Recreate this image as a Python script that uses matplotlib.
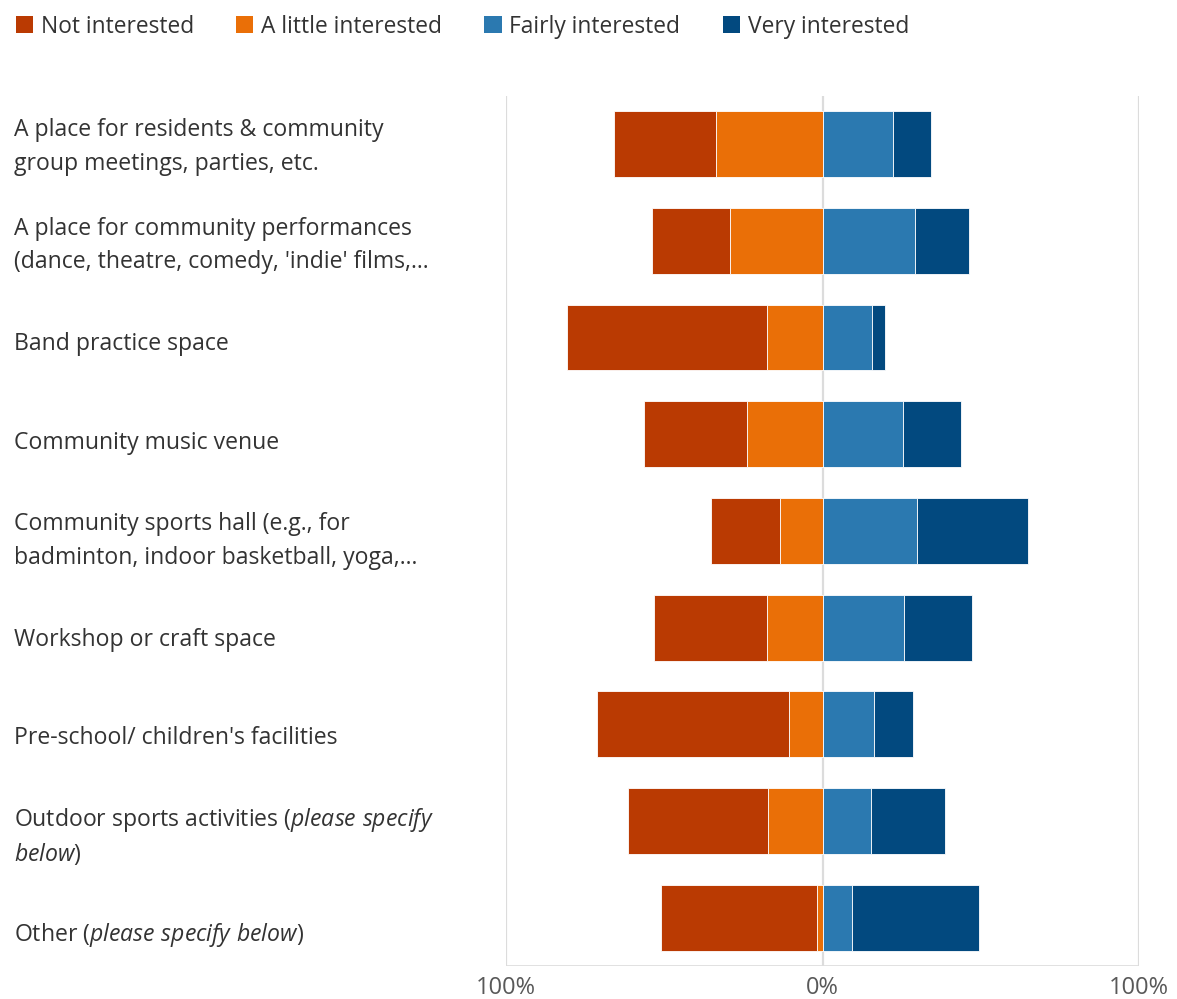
import numpy as np
import matplotlib.pyplot as plt
from matplotlib.patches import Patch

plt.rcParams['font.family'] = ['Open Sans', 'DejaVu Sans']
plt.rcParams['mathtext.fontset'] = 'custom'
plt.rcParams['mathtext.rm'] = 'Open Sans'
plt.rcParams['mathtext.it'] = 'Open Sans:italic'

# libelles des lignes (de haut en bas)
labels = [
    "A place for residents & community\ngroup meetings, parties, etc.",
    "A place for community performances\n(dance, theatre, comedy, 'indie' films,...",
    "Band practice space",
    "Community music venue",
    "Community sports hall (e.g., for\nbadminton, indoor basketball, yoga,...",
    "Workshop or craft space",
    "Pre-school/ children's facilities",
    "Outdoor sports activities ($\\mathit{please\\ specify}$\n$\\mathit{below}$)",
    "Other ($\\mathit{please\\ specify\\ below}$)",
]

series = ["Not interested", "A little interested", "Fairly interested", "Very interested"]
not_int = [32.2, 24.6, 63.2, 32.5, 21.8, 35.7, 60.7, 44.5, 49.0]
little = [33.8, 29.4, 17.7, 24.0, 13.6, 17.7, 10.7, 17.1, 1.9]
fairly = [22.4, 29.1, 15.5, 25.3, 30.0, 25.6, 16.4, 15.2, 9.2]
very = [12.0, 17.1, 4.1, 18.6, 34.8, 21.5, 12.3, 23.4, 40.4]

colors = ["#BA3A02", "#EA6F07", "#2B79B0", "#02497F"]

W, H = 1177, 999
fig = plt.figure(figsize=(W / 100, H / 100), dpi=100)
ax = fig.add_axes([0.430, 0.033, 0.5377, 0.871])

y = np.arange(len(labels))
little_a = np.array(little)
not_a = np.array(not_int)
fairly_a = np.array(fairly)
very_a = np.array(very)
h = 0.68
kw = dict(height=h, edgecolor="white", linewidth=0.6, zorder=3)
ax.barh(y, -little_a, left=0, color=colors[1], **kw)
ax.barh(y, -not_a, left=-little_a, color=colors[0], **kw)
ax.barh(y, fairly_a, left=0, color=colors[2], **kw)
ax.barh(y, very_a, left=fairly_a, color=colors[3], **kw)

ax.set_xlim(-100, 100)
ax.set_ylim(8.5, -0.5)
for xv in [-100, 0, 100]:
    ax.axvline(xv, color="#DCDCDC", linewidth=1.6, zorder=1)
ax.axhline(8.5, color="#DCDCDC", linewidth=1.2, zorder=1)
for s in ax.spines.values():
    s.set_visible(False)
ax.set_xticks([-100, 0, 100])
ax.set_xticklabels(["100%", "0%", "100%"])
ax.tick_params(axis="x", length=0, labelsize=17, labelcolor="#595959", pad=7)
ax.set_yticks([])

# les libelles sont un peu plus espaces que les barres (comme sur l'original)
for i, lab in enumerate(labels):
    ls = 1.38 if "mathit" in lab else 1.55  # mathtext ajoute de la hauteur
    fig.text(14 / W, 1 - (147 + 98.5 * i) / H, lab, ha="left", va="center",
             fontsize=16.6, color="#333333", linespacing=ls)

handles = [Patch(facecolor=c, edgecolor="none") for c in colors]
fig.legend(handles, series, loc="upper left", bbox_to_anchor=(-0.004, 1.006), ncol=4,
           frameon=False, fontsize=16.4, handlelength=0.75, handleheight=0.75,
           handletextpad=0.35, columnspacing=1.85, labelcolor="#333333")

fig.savefig("out.png", dpi=100)
